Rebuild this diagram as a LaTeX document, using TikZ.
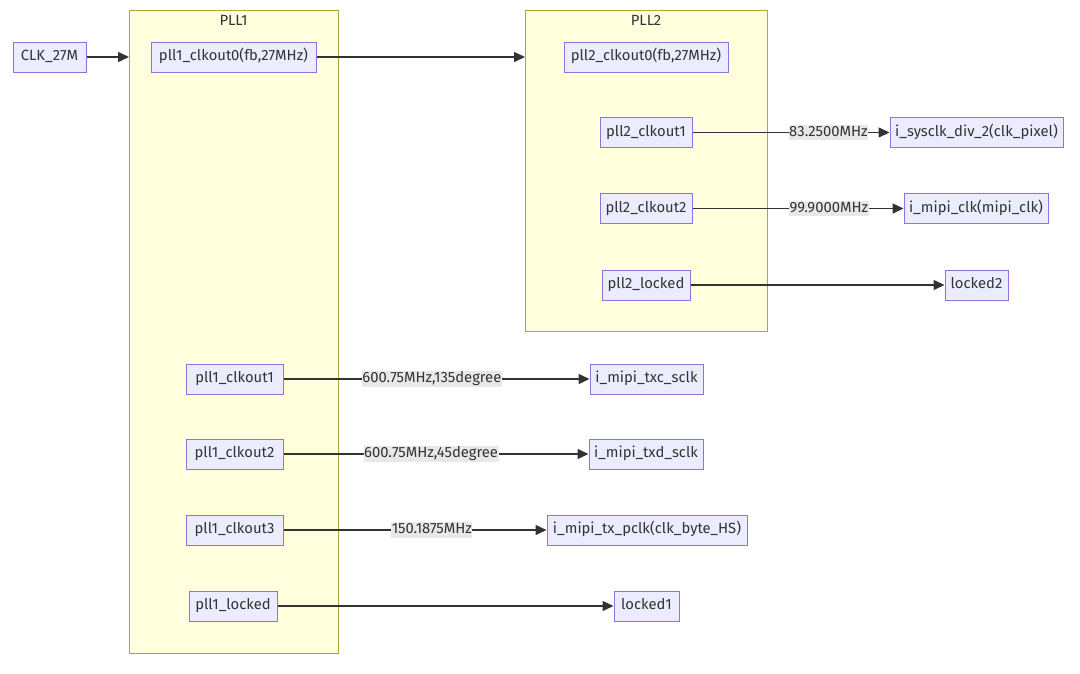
\documentclass[tikz,border=0pt]{standalone}
\usepackage{fontspec}
\setmainfont{Fira Sans}
\usetikzlibrary{arrows.meta}
\definecolor{nfill}{HTML}{ECECFF}
\definecolor{nline}{HTML}{9370DB}
\definecolor{cfill}{HTML}{FFFFDE}
\definecolor{cline}{HTML}{AAAA33}
\definecolor{txt}{HTML}{333333}
\definecolor{lbl}{HTML}{E8E8E8}
\tikzset{
  nd/.style={draw=nline, fill=nfill, line width=1pt, text=txt, font=\fontsize{14.8}{16}\selectfont, minimum height=30pt, inner xsep=0pt, text height=10.5pt, text depth=3pt, anchor=center},
  cl/.style={draw=cline, fill=cfill, line width=1pt, inner sep=0pt, anchor=north west},
  ctitle/.style={text=txt, font=\fontsize{14.8}{16}\selectfont},
  ed/.style={draw=txt, line width=1.5pt, -{Triangle[length=11pt,width=10pt]}},
  el/.style={fill=lbl, text=txt, font=\fontsize{14.8}{16}\selectfont, inner xsep=0.5pt, inner ysep=1pt, text height=10.5pt, text depth=3pt}
}
\begin{document}
\begin{tikzpicture}[x=1pt,y=-1pt]
\useasboundingbox (0,0) rectangle (1080,673);
% clusters
\node[cl, minimum width=209pt, minimum height=643pt] (pll1) at (129,10) {};
\node[ctitle] (pll1t) at (233.5,20) {PLL1};
\node[cl, minimum width=242pt, minimum height=321pt] (pll2) at (525,10) {};
\node[ctitle] (pll2t) at (646,20) {PLL2};
% nodes
\node[nd, minimum width=73pt] (clk) at (49.5,57) {CLK\_27M};
\node[nd, minimum width=165pt] (p1c0) at (233.5,57) {pll1\_clkout0(fb,27MHz)};
\node[nd, minimum width=97pt] (p1c1) at (234.5,379) {pll1\_clkout1};
\node[nd, minimum width=97pt] (p1c2) at (234.5,454) {pll1\_clkout2};
\node[nd, minimum width=97pt] (p1c3) at (234.5,530) {pll1\_clkout3};
\node[nd, minimum width=88pt] (p1l) at (233,606) {pll1\_locked};
\node[nd, minimum width=164pt] (p2c0) at (646,57) {pll2\_clkout0(fb,27MHz)};
\node[nd, minimum width=92pt] (p2c1) at (646,132.5) {pll2\_clkout1};
\node[nd, minimum width=92pt] (p2c2) at (646,208.5) {pll2\_clkout2};
\node[nd, minimum width=88pt] (p2l) at (646,285) {pll2\_locked};
\node[nd, minimum width=173pt] (sys) at (976.5,132.5) {i\_sysclk\_div\_2(clk\_pixel)};
\node[nd, minimum width=144pt] (mipi) at (976,208.5) {i\_mipi\_clk(mipi\_clk)};
\node[nd, minimum width=63pt] (lk2) at (976.5,285) {locked2};
\node[nd, minimum width=113pt] (txc) at (646.5,379) {i\_mipi\_txc\_sclk};
\node[nd, minimum width=114pt] (txd) at (646,454) {i\_mipi\_txd\_sclk};
\node[nd, minimum width=200pt] (pclk) at (647,530) {i\_mipi\_tx\_pclk(clk\_byte\_HS)};
\node[nd, minimum width=65pt] (lk1) at (646.5,606) {locked1};
% edges
\draw[ed] (clk.east) -- (clk.east -| pll1.west);
\draw[ed] (p1c0.east) -- (p1c0.east -| pll2.west);
\draw[ed] (p2c1) -- node[el, pos=0.69] (l1) {83.2500MHz} (sys);
\draw[ed] (p2c2) -- node[el, pos=0.646] (l2) {99.9000MHz} (mipi);
\draw[ed] (p2l) -- (lk2);
\draw[ed] (p1c1) -- node[el, pos=0.485] (l3) {600.75MHz,135degree} (txc);
\draw[ed] (p1c2) -- node[el, pos=0.484] (l4) {600.75MHz,45degree} (txd);
\draw[ed] (p1c3) -- node[el, pos=0.564] (l5) {150.1875MHz} (pclk);
\draw[ed] (p1l) -- (lk1);
\end{tikzpicture}
\end{document}
